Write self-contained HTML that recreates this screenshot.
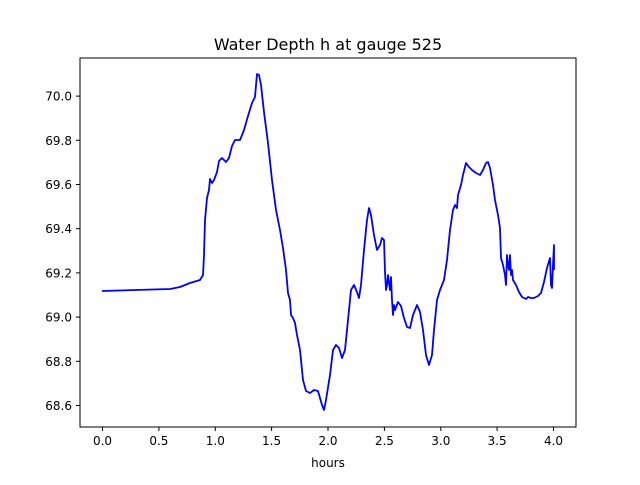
<!DOCTYPE html>
<html><head><meta charset="utf-8"><style>body{margin:0;background:#fff}</style></head><body>
<svg width="640" height="480" xmlns="http://www.w3.org/2000/svg" font-family="DejaVu Sans, Liberation Sans, sans-serif">
<rect width="640" height="480" fill="#fff"/>
<text x="328" y="50" font-size="16" text-anchor="middle">Water Depth h at gauge 525</text>
<polyline fill="none" stroke="#0000ff" stroke-width="1.8" stroke-linejoin="round" points="102,291 170,289 180,287 190,283 200,280 203,275 204,255 205,220 207,198 209,190 210,179 212,183 214,180 217,172 219,161 222,158 226,162 229,158 232,146 235,140 240,140 244,130 248,116 252,103 255,97 257,74 259,75 261,85 264,112 268,143 272,180 276,210 280,230 283,248 286,270 288,293 290,300 291,315 293,318 295,323 297,335 300,350 303,380 306,391 310,393 314,390 318,391 322,405 324,410 326,400 330,375 333,350 336,345 339,348 342,358 345,350 348,320 351,290 354,285 357,292 359,298 361,285 364,250 367,220 369,208 371,215 374,235 377,250 380,245 382,238 384,240 385,272 386,290 387,285 388,275 389,283 390,290 391,277 392,300 393,315 394,305 395,310 398,302 401,306 404,318 407,327 410,328 413,315 417,305 420,312 423,330 426,355 429,365 432,355 434,330 437,300 440,290 444,280 447,260 450,230 453,210 455,205 457,208 458,195 461,185 463,175 466,163 469,167 472,170 476,173 480,175 483,170 486,163 488,162 490,168 493,185 495,200 498,215 500,228 501,258 503,265 505,275 506,285 507,255 508,265 509,270 510,255 511,275 512,270 513,280 516,285 519,292 522,297 526,299 528,297 531,298 534,298 538,296 541,293 544,282 547,268 550,258 551,285 552,288 553,265 554,245 554,270"/>
<rect x="80" y="58" width="496" height="369" fill="none" stroke="#000" stroke-width="1"/>
<g stroke="#000" stroke-width="1">
<line x1="102.5" y1="427" x2="102.5" y2="431"/><line x1="158.9" y1="427" x2="158.9" y2="431"/><line x1="215.3" y1="427" x2="215.3" y2="431"/><line x1="271.6" y1="427" x2="271.6" y2="431"/><line x1="328" y1="427" x2="328" y2="431"/><line x1="384.4" y1="427" x2="384.4" y2="431"/><line x1="440.8" y1="427" x2="440.8" y2="431"/><line x1="497.1" y1="427" x2="497.1" y2="431"/><line x1="553.5" y1="427" x2="553.5" y2="431"/>
<line x1="76" y1="405.5" x2="80" y2="405.5"/><line x1="76" y1="361.3" x2="80" y2="361.3"/><line x1="76" y1="317.1" x2="80" y2="317.1"/><line x1="76" y1="272.9" x2="80" y2="272.9"/><line x1="76" y1="228.7" x2="80" y2="228.7"/><line x1="76" y1="184.5" x2="80" y2="184.5"/><line x1="76" y1="140.3" x2="80" y2="140.3"/><line x1="76" y1="96.1" x2="80" y2="96.1"/>
</g>
<g font-size="12" text-anchor="middle">
<text x="102.5" y="445">0.0</text><text x="158.9" y="445">0.5</text><text x="215.3" y="445">1.0</text><text x="271.6" y="445">1.5</text><text x="328" y="445">2.0</text><text x="384.4" y="445">2.5</text><text x="440.8" y="445">3.0</text><text x="497.1" y="445">3.5</text><text x="553.5" y="445">4.0</text>
<text x="328" y="467">hours</text>
</g>
<g font-size="12" text-anchor="end">
<text x="72" y="410">68.6</text><text x="72" y="366">68.8</text><text x="72" y="321.5">69.0</text><text x="72" y="277.5">69.2</text><text x="72" y="233">69.4</text><text x="72" y="189">69.6</text><text x="72" y="145">69.8</text><text x="72" y="100.5">70.0</text>
</g>
</svg>
</body></html>
